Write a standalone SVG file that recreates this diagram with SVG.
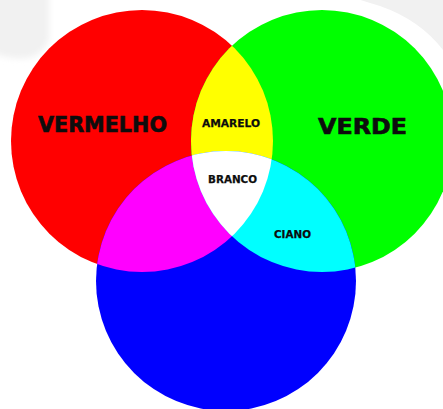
<svg xmlns="http://www.w3.org/2000/svg" width="443" height="409" viewBox="0 0 443 409">
  <defs>
    <style>
      .lbl { font-family: "DejaVu Sans", "Liberation Sans", sans-serif; font-weight: bold; fill: #0d0d0d; stroke: #0d0d0d; }
      .big { font-size: 21px; stroke-width: 0.6px; }
      .small { font-size: 10.5px; stroke-width: 0.25px; }
    </style>
    <clipPath id="clipRed"><circle cx="142" cy="141" r="131"/></clipPath>
    <clipPath id="clipGreen"><circle cx="322" cy="141" r="131"/></clipPath>
    <filter id="soft" x="-20%" y="-20%" width="140%" height="140%"><feGaussianBlur stdDeviation="3"/></filter>
  </defs>
  <rect width="443" height="409" fill="#ffffff"/>
  <g id="background" fill="#f1f1f1">
    <path d="M-10,-10 H49 V40 Q40,62 12,58 Q0,56 -10,52 Z" filter="url(#soft)"/>
    <path d="M345,-5 H450 V55 L443,50 Q420,20 380,6 Q360,0 345,-5 Z"/>
  </g>
  <g id="red"><circle cx="142" cy="141" r="131" fill="#ff0000"/></g>
  <g id="green"><circle cx="322" cy="141" r="131" fill="#00ff00"/></g>
  <g id="blue"><circle cx="226" cy="281" r="130" fill="#0000ff"/></g>
  <g id="yellow" clip-path="url(#clipRed)"><circle cx="322" cy="141" r="131" fill="#ffff00"/></g>
  <g id="magenta" clip-path="url(#clipRed)"><circle cx="226" cy="281" r="130" fill="#ff00ff"/></g>
  <g id="cyan" clip-path="url(#clipGreen)"><circle cx="226" cy="281" r="130" fill="#00ffff"/></g>
  <g id="white" clip-path="url(#clipRed)"><g clip-path="url(#clipGreen)"><circle cx="226" cy="281" r="130" fill="#ffffff"/></g></g>
  <g id="labels">
    <text class="lbl big" x="38" y="132" textLength="129" lengthAdjust="spacingAndGlyphs">VERMELHO</text>
    <text class="lbl big" x="318" y="134" textLength="89" lengthAdjust="spacingAndGlyphs">VERDE</text>
    <text class="lbl small" x="202" y="127" textLength="58" lengthAdjust="spacingAndGlyphs">AMARELO</text>
    <text class="lbl small" x="208" y="183" textLength="49" lengthAdjust="spacingAndGlyphs">BRANCO</text>
    <text class="lbl small" x="274" y="238" textLength="37" lengthAdjust="spacingAndGlyphs">CIANO</text>
  </g>
</svg>
